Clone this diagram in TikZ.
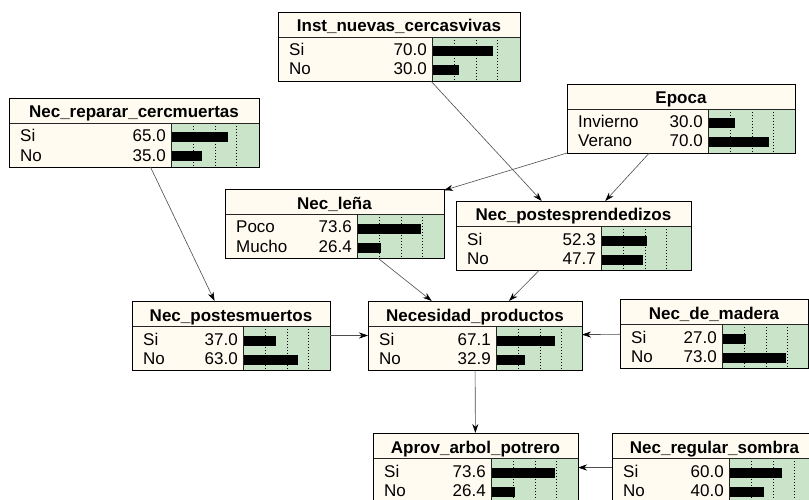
\documentclass[tikz,border=0pt]{standalone}
\usepackage{fontspec}
\setmainfont{Liberation Sans}
\usetikzlibrary{arrows.meta}
\definecolor{cream}{RGB}{255,251,240}
\definecolor{barbg}{RGB}{201,228,201}
\tikzset{
  bnshape/.style={rectangle, inner sep=0pt, outer sep=0pt, fill=cream, anchor=north west},
  bnborder/.style={draw=black, line width=0.9pt},
  sepline/.style={draw=black!85, line width=0.9pt},
  gridline/.style={draw=black, line width=0.7pt, dash pattern=on 1pt off 2pt},
  titletext/.style={font=\fontsize{17}{17}\selectfont\bfseries, anchor=base, inner sep=0pt},
  rowtext/.style={font=\fontsize{17}{17}\selectfont, inner sep=0pt},
  link/.style={draw=black!70, line width=0.6pt, -{Stealth[length=9pt,width=6pt,black]}},
}
% name, left, top, right, bar-area left, title
\newcommand\bnbox[6]{%
  \gdef\bnL{#2}\gdef\bnT{#3}\gdef\bnR{#4}\gdef\bnBL{#5}%
  \node[bnshape, minimum width={(#4-#2)*1pt}, minimum height=69pt] (#1) at (#2,#3) {};
  \fill[barbg] (#5,#3+25) rectangle (#4,#3+69);
  \foreach \k in {1,2,3} {\draw[gridline] ({#5+1+21.5*\k},#3+25) -- ({#5+1+21.5*\k},#3+69);}
  \draw[sepline] (#2,#3+25) -- (#4,#3+25);
  \draw[sepline] (#5,#3+25) -- (#5,#3+69);
  \draw[bnborder] (#1.north west) rectangle (#1.south east);
  \node[titletext] (#1-title) at ({(#2+#4)/2},#3+20) {#6};
}
% name, row index, label, value
\newcommand\bnrow[4]{%
  \pgfmathsetmacro\bnY{\bnT+44+19*(#2-1)}%
  \node[rowtext, anchor=base west] (#1-l#2) at (\bnL+11,\bnY) {#3};
  \node[rowtext, anchor=base east] (#1-v#2) at (\bnBL-5,\bnY) {#4};
  \fill[black] (\bnBL+1,\bnY-9.5) rectangle ({\bnBL+1+0.86*#4},\bnY+0.5);
}
\begin{document}
\begin{tikzpicture}[x=1pt,y=-1pt]
\useasboundingbox (0,0) rectangle (809,500);
\fill[white] (0,0) rectangle (809,500);
\clip (0,0) rectangle (809,500);

\bnbox{inst}{278}{12}{520}{432}{Inst\_nuevas\_cercasvivas}
\bnrow{inst}{1}{Si}{70.0}
\bnrow{inst}{2}{No}{30.0}

\bnbox{repar}{9}{98}{259}{171}{Nec\_reparar\_cercmuertas}
\bnrow{repar}{1}{Si}{65.0}
\bnrow{repar}{2}{No}{35.0}

\bnbox{epoca}{567}{84}{795}{708}{Epoca}
\bnrow{epoca}{1}{Invierno}{30.0}
\bnrow{epoca}{2}{Verano}{70.0}

\bnbox{lena}{225}{189}{444}{357}{Nec\_leña}
\bnrow{lena}{1}{Poco}{73.6}
\bnrow{lena}{2}{Mucho}{26.4}

\bnbox{prend}{456}{201}{691}{601}{Nec\_postesprendedizos}
\bnrow{prend}{1}{Si}{52.3}
\bnrow{prend}{2}{No}{47.7}

\bnbox{muertos}{132}{301}{330}{243}{Nec\_postesmuertos}
\bnrow{muertos}{1}{Si}{37.0}
\bnrow{muertos}{2}{No}{63.0}

\bnbox{necprod}{368}{301}{582}{496}{Necesidad\_productos}
\bnrow{necprod}{1}{Si}{67.1}
\bnrow{necprod}{2}{No}{32.9}

\bnbox{madera}{620}{299}{808}{722}{Nec\_de\_madera}
\bnrow{madera}{1}{Si}{27.0}
\bnrow{madera}{2}{No}{73.0}

\bnbox{aprov}{373}{433}{578}{491}{Aprov\_arbol\_potrero}
\bnrow{aprov}{1}{Si}{73.6}
\bnrow{aprov}{2}{No}{26.4}

\bnbox{sombra}{612}{433}{817}{729}{Nec\_regular\_sombra}
\bnrow{sombra}{1}{Si}{60.0}
\bnrow{sombra}{2}{No}{40.0}

\draw[link] (repar) -- (muertos);
\draw[link] (inst) -- (prend);
\draw[link] (epoca) -- (lena);
\draw[link] (epoca) -- (prend);
\draw[link] (lena) -- (necprod);
\draw[link] (prend) -- (necprod);
\draw[link] (muertos) -- (necprod);
\draw[link] (madera) -- (necprod);
\draw[link] (necprod) -- (aprov);
\draw[link] (sombra) -- (aprov);
\end{tikzpicture}
\end{document}
